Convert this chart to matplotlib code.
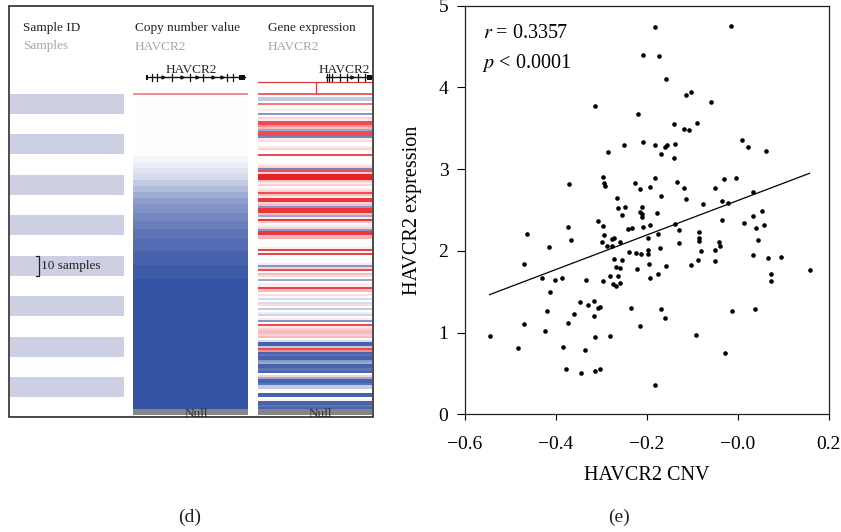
import numpy as np
import matplotlib.pyplot as plt
from matplotlib.colors import LinearSegmentedColormap
from matplotlib.patches import Rectangle

plt.rcParams['font.family'] = ['Liberation Serif', 'DejaVu Serif']
plt.rcParams['mathtext.fontset'] = 'stix'

# ---- (e) HAVCR2 CNV vs expression, one point per sample ----
havcr2_cnv = [
    -0.183, -0.014, -0.208, -0.173, -0.158, -0.113, -0.103, -0.058, -0.313, -0.219,
    -0.141, -0.090, -0.118, -0.107, 0.009, 0.022, 0.063, -0.251, -0.209, -0.182,
    -0.160, -0.156, -0.137, -0.168, -0.140, -0.286, -0.371, -0.297, -0.294, -0.293,
    -0.227, -0.216, -0.194, -0.182, -0.133, -0.119, -0.050, -0.031, -0.003, 0.033,
    -0.266, -0.168, -0.114,
    -0.264, -0.249, -0.210, -0.214, -0.211, -0.211, -0.255, -0.177, -0.077, -0.034,
    -0.022, 0.033, 0.054,
    -0.307, -0.374, -0.297, -0.463, -0.367, -0.416, -0.295, -0.298, -0.287, -0.277,
    -0.272, -0.276, -0.260, -0.242, -0.233, -0.209,
    -0.471, -0.430, -0.402, -0.387, -0.333, -0.296, -0.280, -0.263, -0.272, -0.255,
    -0.267, -0.258, -0.274, -0.268, -0.258, -0.239, -0.224, -0.213, -0.222,
    -0.413, -0.419, -0.471, -0.424, -0.546, -0.483, -0.384, -0.336, -0.347, -0.329,
    -0.316, -0.308, -0.303, -0.316, -0.360, -0.373, -0.314, -0.281, -0.235, -0.216,
    -0.377, -0.344, -0.315, -0.304,
    -0.194, -0.138, -0.130, -0.175, -0.197, -0.172, -0.130, -0.197, -0.197, -0.196,
    -0.194, -0.176, -0.157, -0.086, -0.086, -0.086, -0.081, -0.088, -0.103, -0.050,
    -0.042, -0.039, -0.050, -0.034, 0.013, 0.039, 0.057, 0.044, 0.033, 0.066,
    0.096, 0.073, 0.072, 0.158, -0.169, -0.161, -0.092, -0.013, 0.038, -0.028,
    -0.181,
]
havcr2_expr = [
    4.745, 4.749, 4.394, 4.390, 4.108, 3.908, 3.949, 3.827, 3.778, 3.672,
    3.549, 3.561, 3.488, 3.476, 3.357, 3.268, 3.227, 3.292, 3.337, 3.292,
    3.276, 3.296, 3.313, 3.190, 3.141, 3.211, 2.819, 2.900, 2.827, 2.798,
    2.827, 2.754, 2.782, 2.888, 2.843, 2.770, 2.770, 2.884, 2.896, 2.721,
    2.643, 2.672, 2.635,
    2.529, 2.533, 2.541, 2.480, 2.448, 2.419, 2.439, 2.464, 2.578, 2.611,
    2.590, 2.431, 2.484,
    2.370, 2.296, 2.305, 2.211, 2.129, 2.048, 2.190, 2.105, 2.064, 2.150,
    2.154, 2.064, 2.105, 2.264, 2.284, 2.292,
    1.844, 1.668, 1.648, 1.668, 1.648, 1.635, 1.688, 1.688, 1.897, 1.884,
    1.799, 1.795, 1.591, 1.570, 1.607, 1.990, 1.978, 1.958, 1.774,
    1.493, 1.260, 1.109, 1.015, 0.958, 0.815, 0.824, 0.783, 1.374, 1.342,
    1.391, 1.305, 1.317, 1.203, 1.232, 1.117, 0.942, 0.954, 1.297, 1.081,
    0.558, 0.501, 0.534, 0.558,
    2.321, 2.325, 2.260, 2.207, 2.154, 2.035, 2.092, 2.015, 1.958, 1.844,
    1.672, 1.721, 1.811, 2.235, 2.154, 2.121, 1.999, 1.884, 1.827, 2.011,
    2.113, 2.064, 1.872, 2.374, 2.337, 2.284, 2.313, 2.133, 1.954, 1.909,
    1.925, 1.713, 1.635, 1.766, 1.293, 1.179, 0.975, 1.268, 1.293, 0.754,
    0.354,
]
fit_slope = 2.11
fit_intercept = 2.616
r_value = 0.3357
p_text = '< 0.0001'

x_ticks = [-0.6, -0.4, -0.2, 0.0, 0.2]
x_tick_labels = ['\u22120.6', '\u22120.4', '\u22120.2', '\u22120.0', '0.2']
y_ticks = [0, 1, 2, 3, 4, 5]

# ---- (d) Xena-style heatmap, samples sorted by copy number ----
# copy number as runs of (value, number of samples)
cn_runs = [(0.5, 1), (0.0, 30), (-0.05, 3), (-0.1, 3), (-0.15, 3), (-0.2, 3),
           (-0.3, 3), (-0.38, 3), (-0.48, 3), (-0.56, 3), (-0.62, 4), (-0.68, 4),
           (-0.74, 4), (-0.8, 5), (-0.85, 6), (-0.9, 7), (-0.95, 7), (-1.0, 64)]
expr_rows = [
    0.7, 0, -0.3, -0.3, 0, 0.6, 0, 0, 0.1, 0,
    -0.6, 0, 0.2, 0.1, 0.8, 0.8, 0.5, 0.3, -0.5, 0.8,
    0.8, -0.7, 0.1, 0.15, 0, 0, 0.1, 0.2, 0, 0,
    0.8, 0, 0, 0, 0, 0.1, 0.2, -0.7, 0.8, 0.2,
    1.0, 1.0, 1.0, 0.3, 0.1, 0.2, 0, 0.1, 0.2, 0.8,
    0.3, 0.1, 0.9, 0.9, 0.2, 0.3, -0.6, 0.9, 0.9, 0.3,
    -0.5, 0.1, 0.9, 0.25, 0, 0.1, 0.2, -0.6, 0.9, 0.9,
    0.35, 0.35, 0, 0, 0, 0, 0.1, 0.85, 0, 0.85,
    0, 0, 0, 0, 0.1, -0.6, 0.2, 0.8, 0, 0.3,
    0.15, 0, -0.5, 0, 0.1, 0.1, 0.85, 0.3, 0, 0.15,
    0, -0.2, 0, -0.2, 0.15, 0, -0.3, 0, -0.1, -0.25,
    0, 0.1, -0.6, 0, 0.8, 0.1, 0.2, 0.3, 0.3, 0.2,
    0.3, 0, -0.2, -0.9, -0.9, -0.3, 0.8, 0.5, -0.9, -0.8,
    -0.9, -0.9, -0.6, -0.5, -0.9, -0.9, -0.8, -0.9, 0, 0.2,
    -0.5, -0.9, -0.9, -0.8, -0.3, -0.3, 0, 0, -0.9, -0.9,
    0, 0.05, -0.9, -0.9, -0.8, -0.9,
]
n_null = 3
band_size = 10

cn_values = np.repeat([v for v, n in cn_runs], [n for v, n in cn_runs])
n_rows = len(cn_values)

xena = LinearSegmentedColormap.from_list('xena', ['#3553a4', '#ffffff', '#e8222a'])

fig = plt.figure(figsize=(8.41, 5.32), dpi=100)

# panel (d) is laid out in pixel units on a full-figure axes
ax_d = fig.add_axes([0, 0, 1, 1])
ax_d.set_xlim(0, 841)
ax_d.set_ylim(532, 0)
ax_d.axis('off')

box_x0, box_y0, box_x1, box_y1 = 9.3, 5.7, 372.7, 416.7
row0, row_h = 93.5, 2.025
col_sample = (9.8, 124.3)
col_cn = (133.3, 248.3)
col_expr = (258.3, 372.3)
rows_end = row0 + n_rows * row_h

box = Rectangle((box_x0, box_y0), box_x1 - box_x0, box_y1 - box_y0,
                fill=False, ec='#1a1a1a', lw=1.1, zorder=10)
ax_d.add_patch(box)

for x, title in [(23, 'Sample ID'), (135, 'Copy number value'), (268, 'Gene expression')]:
    ax_d.text(x, 28, title, fontsize=9.5, color='#222222', va='center')
for x, sub in [(23, 'Samples'), (135, 'HAVCR2'), (268, 'HAVCR2')]:
    ax_d.text(x, 46.5, sub, fontsize=9.5, color='#a6a6a6', va='center')

# alternating sample bands
for start in range(0, n_rows, 2 * band_size):
    ax_d.add_patch(Rectangle((col_sample[0], row0 + start * row_h),
                             col_sample[1] - col_sample[0], band_size * row_h,
                             color='#cdd0e2', lw=0))

# "10 samples" bracket on the fifth band
b_top = row0 + 8 * band_size * row_h
b_bot = b_top + band_size * row_h
ax_d.plot([36.5, 39.5, 39.5, 36.5], [b_top, b_top, b_bot, b_bot], color='#222222', lw=0.9)
ax_d.text(41.5, (b_top + b_bot) / 2, '10 samples', fontsize=9.5, color='#222222', va='center')

# heat columns
ax_d.imshow(cn_values.reshape(-1, 1), extent=(col_cn[0], col_cn[1], rows_end, row0),
            cmap=xena, vmin=-1, vmax=1, aspect='auto', interpolation='nearest')
ax_d.imshow(np.array(expr_rows).reshape(-1, 1), extent=(col_expr[0], col_expr[1], rows_end, row0),
            cmap=xena, vmin=-1, vmax=1, aspect='auto', interpolation='nearest')

# null samples at the bottom
for (c0, c1), tx in [(col_cn, 196.5), (col_expr, 320)]:
    ax_d.add_patch(Rectangle((c0, rows_end), c1 - c0, n_null * row_h, color='#858585', lw=0))
    t = ax_d.text(tx, rows_end - 1, 'Null', fontsize=9.5, color='#333333', ha='center', va='top')
    t.set_clip_path(box)


def gene_model(x0, x1, y, exons, arrows, blocks):
    ax_d.plot([x0, x1], [y, y], color='#111111', lw=1.0)
    for ex in exons:
        ax_d.plot([ex, ex], [y - 3.5, y + 3.5], color='#111111', lw=0.9)
    for a in arrows:
        ax_d.plot(a, y, marker='>', ms=2.2, color='#111111')
    for b0, b1 in blocks:
        ax_d.add_patch(Rectangle((b0, y - 2.5), b1 - b0, 5, color='#111111', lw=0))


gene_model(146, 245, 77, [151.7, 156.7, 171.7, 190, 203.3, 226.7, 233.3],
           [163, 181.7, 196.7, 213.3, 221.7], [(145.7, 148.3), (238.7, 245)])
ax_d.text(191, 70, 'HAVCR2', fontsize=9.5, color='#222222', ha='center', va='center')
gene_model(326, 372.3, 77, [326.7, 329.3, 331.7, 340, 346.7, 358.3, 365],
           [351.7], [(366.7, 372.3)])
ax_d.text(344, 70, 'HAVCR2', fontsize=9.5, color='#222222', ha='center', va='center')

# probe connector lines above the expression column
ax_d.plot([col_expr[0], col_expr[1]], [81.5, 81.5], color='#d83a3a', lw=0.9)
ax_d.plot([316, 316], [81.5, 93], color='#d83a3a', lw=0.8)

ax_d.text(190, 517, '(d)', fontsize=14, color='#222222', ha='center', va='center')
ax_d.text(619, 517, '(e)', fontsize=14, color='#222222', ha='center', va='center')

# ---- panel (e) ----
ax_e = fig.add_axes([465 / 841, (532 - 414.3) / 532, 363.7 / 841, 408.6 / 532])
ax_e.scatter(havcr2_cnv, havcr2_expr, s=11, color='black', lw=0, zorder=3)
xs = np.array([min(havcr2_cnv), max(havcr2_cnv)])
ax_e.plot(xs, fit_intercept + fit_slope * xs, color='black', lw=0.9)

ax_e.set_xlim(-0.6, 0.2)
ax_e.set_ylim(0, 5)
ax_e.set_xticks(x_ticks)
ax_e.set_xticklabels(x_tick_labels)
ax_e.set_yticks(y_ticks)
ax_e.tick_params(axis='x', direction='out', length=4.5, width=0.8, pad=11, labelsize=14)
ax_e.tick_params(axis='y', direction='out', length=6, width=0.8, pad=6, labelsize=14)
for sp in ax_e.spines.values():
    sp.set_linewidth(0.9)
    sp.set_color('#222222')

ax_e.set_xlabel('HAVCR2 CNV', fontsize=14.5)
ax_e.set_ylabel('HAVCR2 expression', fontsize=14.5)
ax_e.xaxis.set_label_coords(0.5, -0.127)
ax_e.yaxis.set_label_coords(-0.118, 0.5)

ax_e.text(0.049, 0.933, f'$r$ = {r_value:.4f}', transform=ax_e.transAxes,
          fontsize=14.5, va='center')
ax_e.text(0.047, 0.86, f'$p$ {p_text}', transform=ax_e.transAxes,
          fontsize=14.5, va='center')

fig.savefig('out.png', dpi=100)
